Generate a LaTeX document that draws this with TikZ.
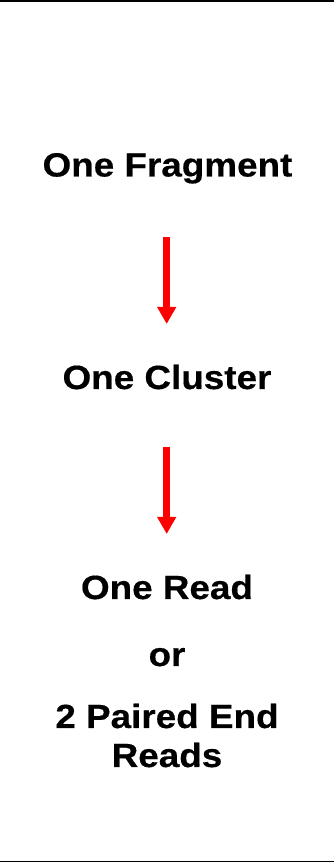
\documentclass[tikz,border=0pt]{standalone}
\usepackage{fontspec}
\setmainfont[FakeStretch=1.1,BoldFeatures={FakeBold=0.4}]{Liberation Sans}
\usetikzlibrary{arrows.meta}
\definecolor{arrred}{RGB}{255,0,0}
\begin{document}
\begin{tikzpicture}[x=1pt,y=1pt,
  lbl/.style={anchor=base,inner sep=0pt,font=\fontsize{33.5}{39}\selectfont\bfseries},
  flowarrow/.style={draw=arrred,line width=6.7pt,-{Triangle[width=18pt,length=17pt,fill=arrred]}}]
\useasboundingbox (0,0) rectangle (334,863);
\fill[white] (0,0) rectangle (334,863);
% rules
\coordinate (tl) at (0,862);
\coordinate (tr) at (334,862);
\coordinate (bl) at (0,1.4);
\coordinate (br) at (334,1.4);
\draw[line width=2pt] (tl) -- (tr);
\draw[line width=1.3pt] (bl) -- (br);
% texts
\node[lbl] (frag) at (167.5,863-176.5) {One Fragment};
\node[lbl] (clus) at (167,863-389) {One Cluster};
\node[lbl] (read) at (167,863-599) {One Read};
\node[lbl] (or) at (167,863-666) {or};
\node[lbl] (pair) at (167,863-728) {2 Paired End};
\node[lbl] (reads) at (167,863-767) {Reads};
% arrows
\coordinate (a1s) at (166.7,863-237);
\coordinate (a1e) at (166.7,863-324);
\coordinate (a2s) at (166.7,863-447);
\coordinate (a2e) at (166.7,863-534);
\draw[flowarrow] (a1s) -- (a1e);
\draw[flowarrow] (a2s) -- (a2e);
\end{tikzpicture}
\end{document}
